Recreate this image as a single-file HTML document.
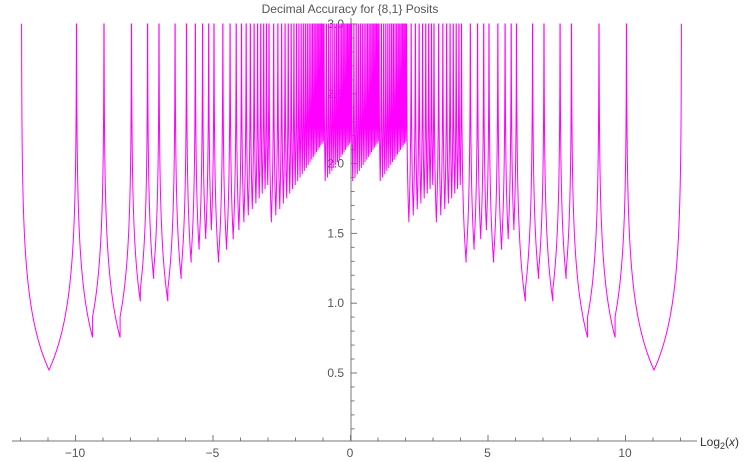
<!DOCTYPE html>
<html><head><meta charset="utf-8"><style>
body{margin:0;background:#fff;}
svg{display:block;font-family:"Liberation Sans",sans-serif;}
</style></head><body>
<svg id="chart" width="746" height="462" viewBox="0 0 746 462">
<text x="350" y="13" text-anchor="middle" font-size="12" fill="#555">Decimal Accuracy for {8,1} Posits</text>
<g id="axes"></g>
<path id="curve" fill="none" stroke="#ff00ff" stroke-width="1"/>
<text x="700" y="446" font-size="12" fill="#333">Log<tspan font-size="9" dy="3">2</tspan><tspan dy="-3">(</tspan><tspan font-style="italic">x</tspan>)</text>
</svg>
<script>
// binade exponents of posit{8,1} and fraction bits available in each
const binadeExps = [-12,-10,-9,-8,-7,-6,-5,-4,-3,-2,-1,0,1,2,3,4,5,6,7,8,9,10,12];
const fracBits   = [0,0,0,1,1,2,2,3,3,4,4,4,4,3,3,2,2,1,1,0,0,0,0];
const xTicks = [-10,-5,0,5,10];
const yTicks = [0.5,1.0,1.5,2.0,2.5,3.0];
const yMax = 3;

const NS="http://www.w3.org/2000/svg";
function sx(l){return 351.5+27.5*l;}
function sy(a){return 373-139.6*(a-0.5);}

const posits=[];
binadeExps.forEach((e,i)=>{const n=Math.pow(2,fracBits[i]);for(let k=0;k<n;k++)posits.push(Math.pow(2,e)*(1+k/n));});
posits.sort((a,b)=>a-b);
const bounds=[];
for(let i=0;i<posits.length-1;i++){
  const a=posits[i],b=posits[i+1];
  bounds.push(b/a>=4?Math.sqrt(a*b):(a+b)/2);
}
function acc(x,p){const d=Math.abs(Math.log10(x/p));if(d<=0)return yMax;return Math.min(yMax,-Math.log10(d));}
let d="";
for(let i=0;i<posits.length;i++){
  const p=posits[i];
  const lo=i===0?p:bounds[i-1], hi=i===posits.length-1?p:bounds[i];
  const N=80;
  if(lo<p){for(let j=0;j<=N;j++){const t=j/N;const x=lo*Math.pow(p/lo,1-Math.pow(1-t,3));const l=Math.log2(x);d+=(d?"L":"M")+sx(l).toFixed(2)+","+sy(acc(x,p)).toFixed(2);}}
  else {d+=(d?"L":"M")+sx(Math.log2(p)).toFixed(2)+","+sy(yMax).toFixed(2);}
  if(hi>p){for(let j=0;j<=N;j++){const t=j/N;const x=p*Math.pow(hi/p,Math.pow(t,3));d+="L"+sx(Math.log2(x)).toFixed(2)+","+sy(acc(x,p)).toFixed(2);}}
}
document.getElementById('curve').setAttribute('d',d);

function tx(v){return 350+27.5*v;}
const ax=document.getElementById('axes');
function mk(tag,attrs){const e=document.createElementNS(NS,tag);for(const k in attrs)e.setAttribute(k,attrs[k]);ax.appendChild(e);return e;}
const xl=mk('line',{x1:12,y1:441,x2:697,y2:441,stroke:'#777'});


const yl=mk('line',{x1:351,y1:18,x2:351,y2:441,stroke:'#777'});


for(let v=-12;v<=12;v++){
  const major=xTicks.indexOf(v)>=0;
  const t=mk('line',{x1:tx(v)+0.5,y1:441,x2:tx(v)+0.5,y2:441-(major?6:3.5),stroke:'#777'});
  
  
}
xTicks.forEach(v=>{const t=mk('text',{x:tx(v),y:457,'text-anchor':'middle','font-size':12,fill:'#555'});t.textContent=v<0?'\u2212'+(-v):String(v);
  
  });
for(let k=1;k<=30;k++){
  const v=k/10;const major=k%5===0;
  const t=mk('line',{x1:351,y1:sy(v),x2:351+(major?6:3.5),y2:sy(v),stroke:'#777'});
  
  
}
yTicks.forEach(v=>{const t=mk('text',{x:344,y:sy(v)+4,'text-anchor':'end','font-size':12,fill:'#555'});t.textContent=v.toFixed(1);
  
  });
</script>
</body></html>
